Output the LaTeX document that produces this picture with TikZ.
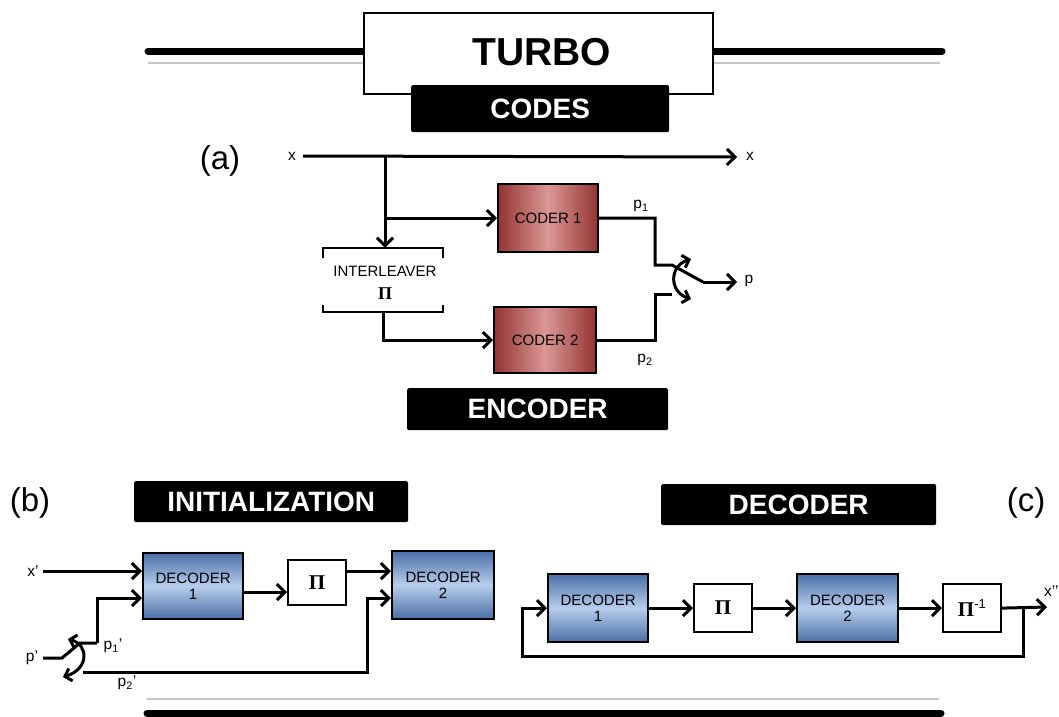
\documentclass[tikz,border=0pt]{standalone}
\usepackage{fontspec}
\setmainfont{Liberation Sans}
\newfontfamily\grk{Liberation Serif}
\usetikzlibrary{arrows.meta,calc}

\definecolor{redEdge}{HTML}{943431}
\definecolor{redMid}{HTML}{DA9896}
\definecolor{blueEdge}{HTML}{4A6FA6}
\definecolor{blueMid}{HTML}{B7CDEC}
\definecolor{ruleGray}{HTML}{C6C6C6}

\tikzset{
  wire/.style={line width=3pt, line join=miter},
  arr/.style={wire, -{Straight Barb[length=8pt,width=16pt]}},
  darr/.style={wire, {Straight Barb[length=6pt,width=13pt]}-{Straight Barb[length=6pt,width=13pt]}},
  heavyrule/.style={line width=7pt, line cap=round},
  lightrule/.style={line width=2pt, draw=ruleGray},
  boxbase/.style={draw, line width=2.2pt, inner sep=0pt, anchor=north west, align=center},
  coder/.style={boxbase, left color=redEdge, right color=redEdge, middle color=redMid,
    font=\fontsize{15}{15}\selectfont},
  decoder/.style={boxbase, top color=blueEdge, bottom color=blueEdge, middle color=blueMid,
    font=\fontsize{15}{16.5}\selectfont},
  pibox/.style={boxbase, fill=white, font=\grk\bfseries\fontsize{21}{21}\selectfont},
  banner/.style={fill=black, text=white, inner sep=0pt, anchor=north west, rounded corners=1.5pt,
    font=\bfseries\fontsize{28}{28}\selectfont},
  lbl/.style={inner sep=0pt, font=\fontsize{15.5}{15.5}\selectfont},
  tag/.style={inner sep=0pt, font=\fontsize{33}{33}\selectfont},
}

\begin{document}
\begin{tikzpicture}[x=1pt,y=-1pt]
\useasboundingbox (0,0) rectangle (1059,716);

% ---------- title block ----------
\draw[heavyrule] (148,51) -- (942,51);
\draw[lightrule] (148,63) -- (940,63);
\node[boxbase, fill=white, line width=1.5pt, minimum width=349pt, minimum height=81pt] (turbobox) at (363,12) {};
\node[inner sep=0pt, font=\bfseries\fontsize{39}{39}\selectfont] (turbo) at (542,52) {TURBO};
\node[banner, minimum width=258pt, minimum height=47pt] (codes) at (411,85) {CODES};

% ---------- (a) encoder ----------
\node[tag] (taga) at (220,161) {(a)};
\node[lbl] (xa) at (292,156) {x};
\node[lbl] (xb) at (750,156) {x};
\coordinate (xaTip) at (737,157);
\coordinate (tap) at (385,157);

\node[coder, minimum width=100pt, minimum height=68pt] (coder1) at (497,183) {CODER 1};
\node[coder, minimum width=102pt, minimum height=66pt] (coder2) at (493,306) {CODER 2};

\node[inner sep=0pt, minimum width=120pt, minimum height=64pt] (intl) at (383,280) {};
\node[inner sep=0pt, font=\fontsize{15}{15}\selectfont] (intltxt) at (385,271) {INTERLEAVER};
\node[inner sep=0pt, font=\grk\bfseries\fontsize{18}{18}\selectfont] (intlpi) at (385,294) {Π};
\draw[line width=2pt] ($(intl.north west)+(0,10)$) -- (intl.north west) -- (intl.north east) -- ++(0,10);
\draw[line width=2pt] ($(intl.south west)+(0,-7)$) -- (intl.south west) -- (intl.south east) -- ++(0,-7);

\draw[arr, shorten <=7pt] (xa.east) -- (xaTip);
\draw[arr] (tap) -- (tap |- intl.north);
\draw[arr] (tap |- coder1.west) -- (coder1.west);
\draw[arr] (intl.south) -- (intl.south |- coder2.west) -- (coder2.west);

% output switch
\coordinate (bend) at (655,0);
\coordinate (sw1) at (672,265);
\coordinate (sw2) at (672,294);
\coordinate (swp) at (703,282);
\coordinate (pTip) at (737,282);
\coordinate (arcA) at (691,259);
\coordinate (arcB) at (691,299);
\node[lbl] (pa) at (749,281) {p};
\node[lbl] (p1) at (641,206) {p\textsubscript{1}};
\node[lbl] (p2) at (645,360) {p\textsubscript{2}};

\draw[wire] (coder1.east) -- (bend |- coder1.east) -- (bend |- sw1) -- (sw1) -- (swp);
\draw[arr] (swp) -- (pTip);
\draw[wire] (coder2.east) -- (bend |- coder2.east) -- (bend |- sw2) -- (sw2);
\draw[darr] (arcA) .. controls (669,266) and (669,292) .. (arcB);

\node[banner, minimum width=261pt, minimum height=42pt] (encoder) at (407,388) {ENCODER};

% ---------- (b) initialization ----------
\node[tag] (tagb) at (30,503) {(b)};
\node[banner, minimum width=274pt, minimum height=41pt] (init) at (134,481) {INITIALIZATION};

\node[decoder, minimum width=100pt, minimum height=66pt] (dAone) at (142,552) {DECODER\\1};
\node[pibox, minimum width=58pt, minimum height=45pt] (piA) at (287,559) {Π};
\node[decoder, minimum width=102pt, minimum height=68pt] (dAtwo) at (391,550) {DECODER\\2};

\node[lbl] (xp) at (33,571) {x’};
\node[lbl] (pp) at (32,658) {p’};
\node[lbl] (pp1) at (113,646) {p\textsubscript{1}’};
\node[lbl] (pp2) at (127,683) {p\textsubscript{2}’};

\coordinate (inA) at ($(dAone.west)+(0,12)$);
\coordinate (outA) at ($(dAone.east)+(0,6)$);
\coordinate (inB) at ($(dAtwo.west)+(0,-14)$);
\coordinate (inC) at ($(dAtwo.west)+(0,13)$);
\coordinate (ppKnee) at (62,658);
\coordinate (c1) at (80,643);
\coordinate (c1up) at (97,643);
\coordinate (c2) at (83,672);
\coordinate (c2up) at (367,672);
\coordinate (barcA) at (68,639);
\coordinate (barcB) at (63,677);

\draw[arr, shorten <=4pt] (xp.east) -- (xp.east -| dAone.west);
\draw[wire, shorten <=5pt] (pp.east) -- (ppKnee) -- (c1) -- (c1up);
\draw[arr] (c1up) |- (inA);
\draw[arr] (c2) -- (c2up) |- (inC);
\draw[darr] (barcA) .. controls (89,645) and (89,669) .. (barcB);
\draw[arr] (outA) -- (outA -| piA.west);
\draw[arr] (inB -| piA.east) -- (inB);

% ---------- (c) decoder ----------
\node[tag] (tagc) at (1026,503) {(c)};
\node[banner, minimum width=275pt, minimum height=41pt] (decban) at (661,484) {DECODER};

\node[decoder, minimum width=100pt, minimum height=68pt] (dBone) at (547,573) {DECODER\\1};
\node[pibox, minimum width=58pt, minimum height=48pt] (piB) at (693,583) {Π};
\node[decoder, minimum width=101pt, minimum height=68pt] (dBtwo) at (796,573) {DECODER\\2};
\node[pibox, minimum width=58pt, minimum height=48pt] (piBinv) at (942,583)
  {Π\textsuperscript{\normalfont\fontsize{13}{13}\selectfont -1}};
\node[lbl, anchor=west] (xpp) at (1044,591) {x’’};

\coordinate (outTip) at (1047,607);
\coordinate (fbTap) at (1023,607);
\coordinate (fbLow) at (522,656);

\draw[arr] (dBone.east) -- (piB.west);
\draw[arr] (piB.east) -- (dBtwo.west);
\draw[arr] (dBtwo.east) -- (piBinv.west);
\draw[arr] (piBinv.east) -- (outTip);
\draw[arr] (fbTap) -- (fbTap |- fbLow) -- (fbLow) -- (fbLow |- dBone.west) -- (dBone.west);

% ---------- footer rules ----------
\draw[lightrule] (147,699) -- (939,699);
\draw[heavyrule] (147,713) -- (941,713);
\end{tikzpicture}
\end{document}
